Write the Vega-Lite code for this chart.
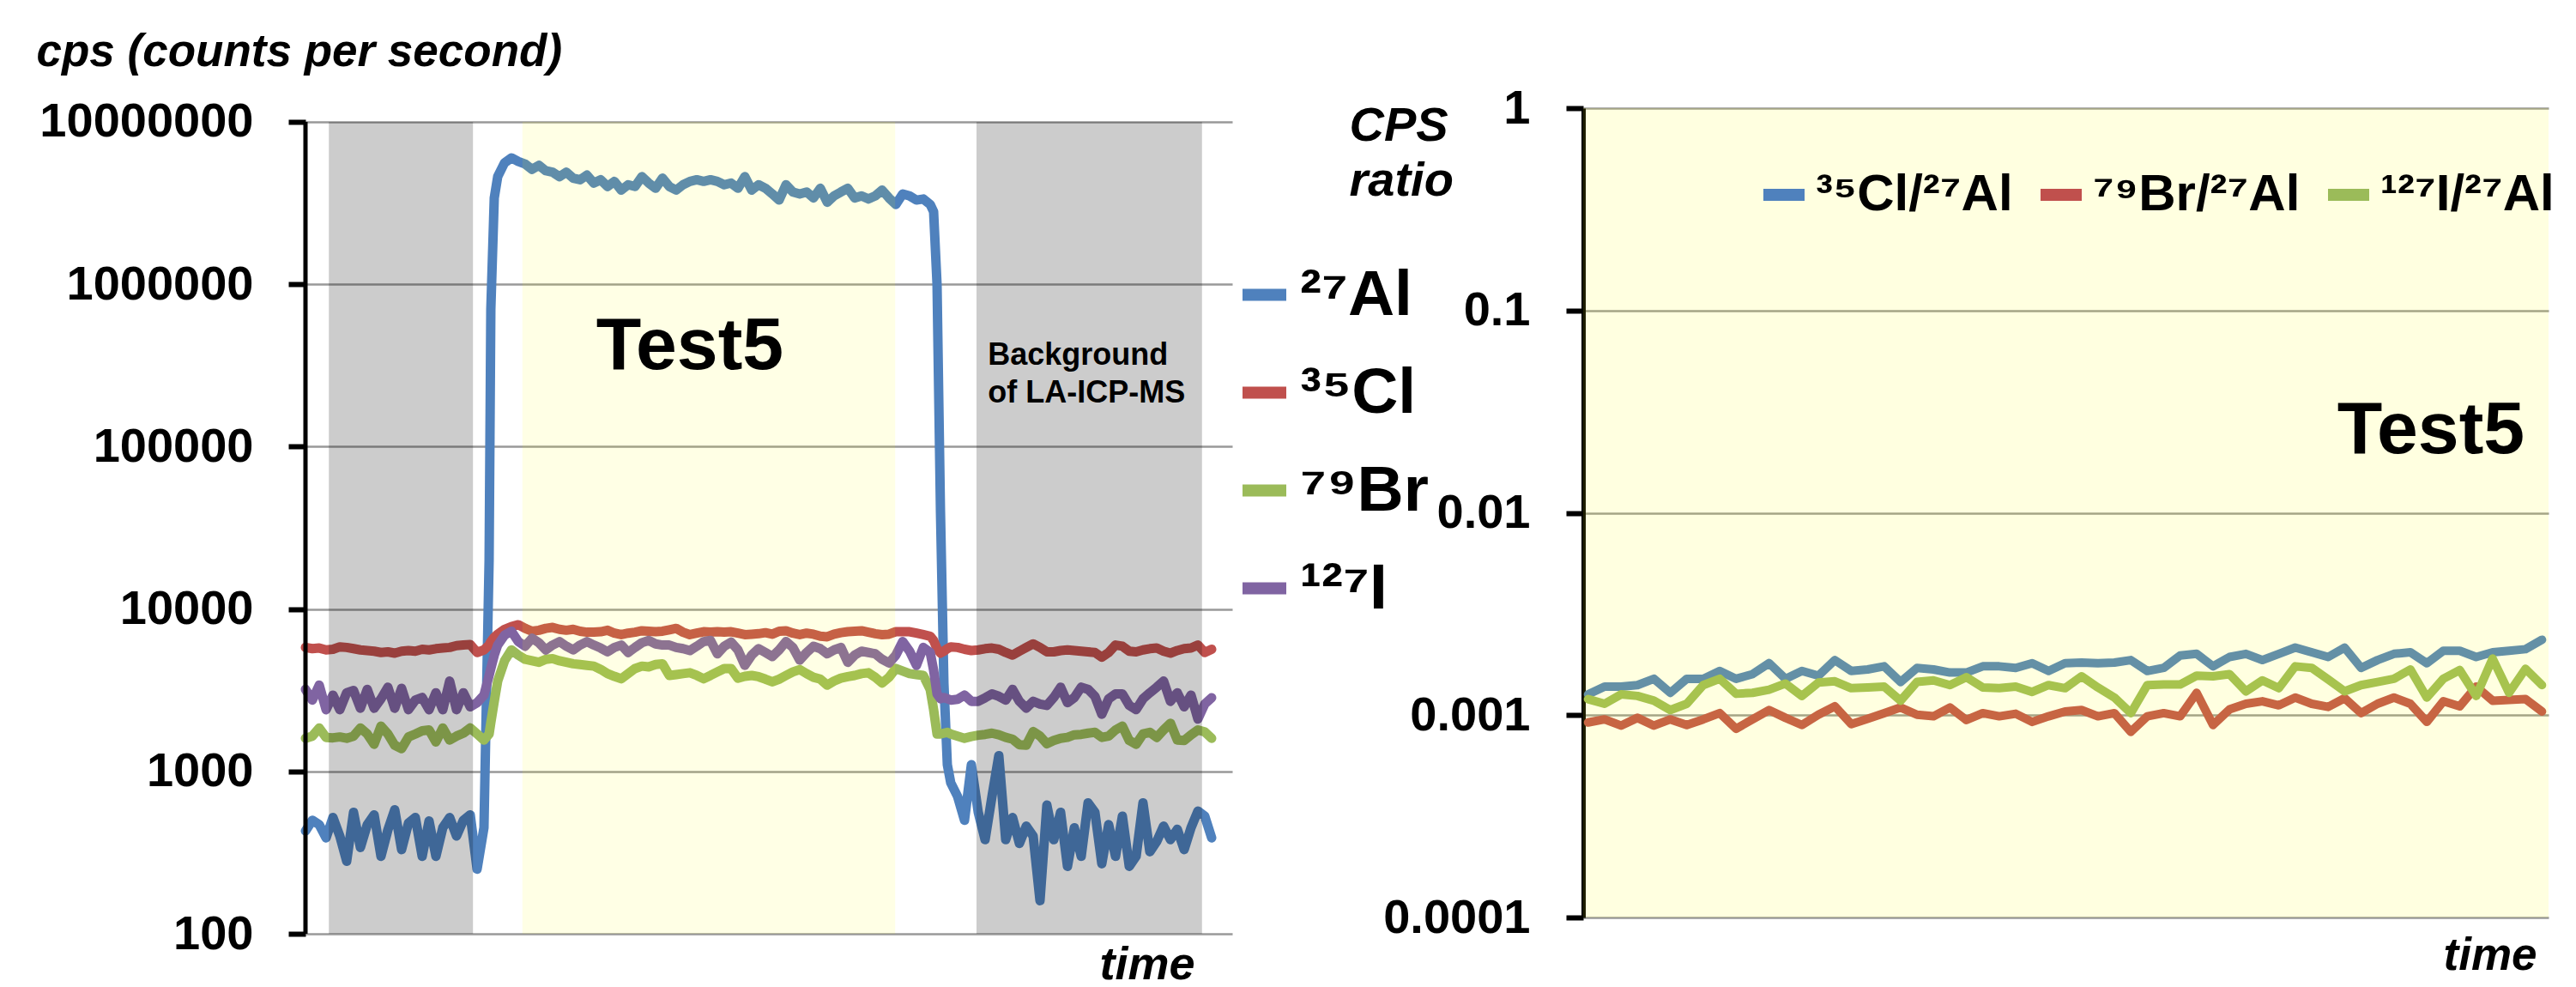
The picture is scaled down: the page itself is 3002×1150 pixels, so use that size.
{
"$schema": "https://vega.github.io/schema/vega-lite/v6.json",
"background": "white",
"padding": {"left": 42, "top": 34, "right": 0, "bottom": 0},
"config": {"font": "Liberation Sans", "view": {"stroke": null}},
"resolve": {"scale": {"color": "independent"}},
"bounds": "flush",
"spacing": 409,
"hconcat": [
{
"width": 1080, "height": 962,
"layer": [
{
"data": {"values": [
{"t":0,"Al":430,"Cl":5800,"Br":1600,"I":3200},
{"t":1,"Al":500,"Cl":5700,"Br":1650,"I":2750},
{"t":2,"Al":470,"Cl":5750,"Br":1850,"I":3400},
{"t":3,"Al":390,"Cl":5600,"Br":1620,"I":2400},
{"t":4,"Al":520,"Cl":5650,"Br":1610,"I":2950},
{"t":5,"Al":400,"Cl":5850,"Br":1630,"I":2400},
{"t":6,"Al":280,"Cl":5800,"Br":1600,"I":3050},
{"t":7,"Al":560,"Cl":5700,"Br":1650,"I":3150},
{"t":8,"Al":340,"Cl":5600,"Br":1850,"I":2450},
{"t":9,"Al":470,"Cl":5550,"Br":1700,"I":3200},
{"t":10,"Al":540,"Cl":5500,"Br":1470,"I":2450},
{"t":11,"Al":300,"Cl":5400,"Br":1900,"I":2800},
{"t":12,"Al":436,"Cl":5450,"Br":1700,"I":3300},
{"t":13,"Al":580,"Cl":5350,"Br":1450,"I":2450},
{"t":14,"Al":330,"Cl":5500,"Br":1380,"I":3250},
{"t":15,"Al":480,"Cl":5550,"Br":1630,"I":2400},
{"t":16,"Al":520,"Cl":5500,"Br":1700,"I":2750},
{"t":17,"Al":300,"Cl":5650,"Br":1780,"I":2850},
{"t":18,"Al":495,"Cl":5600,"Br":1800,"I":2400},
{"t":19,"Al":300,"Cl":5700,"Br":1520,"I":3050},
{"t":20,"Al":450,"Cl":5750,"Br":1850,"I":2400},
{"t":21,"Al":520,"Cl":5800,"Br":1560,"I":3600},
{"t":22,"Al":400,"Cl":5950,"Br":1650,"I":2400},
{"t":23,"Al":500,"Cl":6000,"Br":1720,"I":3050},
{"t":24,"Al":540,"Cl":6050,"Br":1850,"I":2500},
{"t":25,"Al":250,"Cl":5400,"Br":1700,"I":2650},
{"t":26,"Al":450,"Cl":5600,"Br":1560,"I":2950},
{"t":26.75,"Al":20000,"Cl":6000,"Br":1700,"I":3900},
{"t":27,"Al":700000,"Cl":6300,"Br":2000,"I":4300},
{"t":27.5,"Al":3400000,"Cl":6700,"Br":2700,"I":5200},
{"t":28,"Al":4600000,"Cl":7000,"Br":3600,"I":6000},
{"t":29,"Al":5600000,"Cl":7500,"Br":4800,"I":6900},
{"t":30,"Al":6000000,"Cl":7800,"Br":5600,"I":7300},
{"t":31,"Al":5700000,"Cl":8000,"Br":5200,"I":6300},
{"t":32,"Al":5500000,"Cl":7600,"Br":4900,"I":5900},
{"t":33,"Al":5100000,"Cl":7300,"Br":4800,"I":6600},
{"t":34,"Al":5400000,"Cl":7400,"Br":4700,"I":6200},
{"t":35,"Al":5000000,"Cl":7600,"Br":4900,"I":5600},
{"t":36,"Al":4900000,"Cl":7700,"Br":4950,"I":6000},
{"t":37,"Al":4600000,"Cl":7500,"Br":4800,"I":6300},
{"t":38,"Al":4900000,"Cl":7400,"Br":4700,"I":5900},
{"t":39,"Al":4500000,"Cl":7500,"Br":4600,"I":5600},
{"t":40,"Al":4400000,"Cl":7300,"Br":4550,"I":6000},
{"t":41,"Al":4700000,"Cl":7200,"Br":4500,"I":6300},
{"t":42,"Al":4200000,"Cl":7200,"Br":4450,"I":6000},
{"t":43,"Al":4400000,"Cl":7250,"Br":4250,"I":5750},
{"t":44,"Al":4000000,"Cl":7400,"Br":4000,"I":5450},
{"t":45,"Al":4300000,"Cl":7100,"Br":3850,"I":5800},
{"t":46,"Al":3800000,"Cl":6950,"Br":3720,"I":6000},
{"t":47,"Al":4100000,"Cl":7100,"Br":4000,"I":5400},
{"t":48,"Al":4000000,"Cl":7200,"Br":4300,"I":5800},
{"t":49,"Al":4600000,"Cl":7350,"Br":4450,"I":6200},
{"t":50,"Al":4200000,"Cl":7300,"Br":4400,"I":6400},
{"t":51,"Al":3900000,"Cl":7250,"Br":4550,"I":6100},
{"t":52,"Al":4500000,"Cl":7300,"Br":4600,"I":6000},
{"t":53,"Al":4000000,"Cl":7450,"Br":3900,"I":6000},
{"t":54,"Al":3800000,"Cl":7600,"Br":3950,"I":5800},
{"t":55,"Al":4100000,"Cl":7200,"Br":4000,"I":5700},
{"t":56,"Al":4300000,"Cl":6950,"Br":4050,"I":5550},
{"t":57,"Al":4400000,"Cl":7100,"Br":3900,"I":5900},
{"t":58,"Al":4300000,"Cl":7250,"Br":3720,"I":6300},
{"t":59,"Al":4400000,"Cl":7200,"Br":3900,"I":6400},
{"t":60,"Al":4300000,"Cl":7250,"Br":4100,"I":5300},
{"t":61,"Al":4100000,"Cl":7200,"Br":4300,"I":5900},
{"t":62,"Al":4200000,"Cl":7250,"Br":4300,"I":6250},
{"t":63,"Al":3900000,"Cl":7100,"Br":3750,"I":5600},
{"t":64,"Al":4600000,"Cl":6950,"Br":3850,"I":4500},
{"t":65,"Al":3800000,"Cl":7000,"Br":3900,"I":5200},
{"t":66,"Al":4100000,"Cl":7050,"Br":3830,"I":5700},
{"t":67,"Al":3900000,"Cl":7150,"Br":3700,"I":5400},
{"t":68,"Al":3600000,"Cl":7000,"Br":3560,"I":5100},
{"t":69,"Al":3300000,"Cl":7300,"Br":3700,"I":5600},
{"t":70,"Al":4100000,"Cl":7350,"Br":3900,"I":6300},
{"t":71,"Al":3700000,"Cl":7100,"Br":4100,"I":5800},
{"t":72,"Al":3600000,"Cl":6950,"Br":4240,"I":4850},
{"t":73,"Al":3700000,"Cl":7100,"Br":4000,"I":5400},
{"t":74,"Al":3400000,"Cl":7000,"Br":3800,"I":5900},
{"t":75,"Al":3900000,"Cl":6800,"Br":3700,"I":5700},
{"t":76,"Al":3200000,"Cl":6750,"Br":3400,"I":5300},
{"t":77,"Al":3500000,"Cl":7000,"Br":3600,"I":5600},
{"t":78,"Al":3700000,"Cl":7150,"Br":3750,"I":5800},
{"t":79,"Al":3900000,"Cl":7250,"Br":3830,"I":4700},
{"t":80,"Al":3400000,"Cl":7300,"Br":3900,"I":5200},
{"t":81,"Al":3500000,"Cl":7350,"Br":4000,"I":5500},
{"t":82,"Al":3350000,"Cl":7200,"Br":4050,"I":5400},
{"t":83,"Al":3500000,"Cl":7050,"Br":3800,"I":5300},
{"t":84,"Al":3800000,"Cl":6950,"Br":3500,"I":4900},
{"t":85,"Al":3400000,"Cl":7000,"Br":3800,"I":4650},
{"t":86,"Al":3100000,"Cl":7250,"Br":4300,"I":5200},
{"t":87,"Al":3600000,"Cl":7250,"Br":4150,"I":6300},
{"t":88,"Al":3500000,"Cl":7250,"Br":4000,"I":5500},
{"t":89,"Al":3300000,"Cl":7100,"Br":3950,"I":4500},
{"t":90,"Al":3350000,"Cl":6950,"Br":3900,"I":5800},
{"t":91,"Al":3100000,"Cl":6800,"Br":3200,"I":5400},
{"t":91.5,"Al":2800000,"Cl":6400,"Br":2400,"I":4200},
{"t":92,"Al":1000000,"Cl":5700,"Br":1700,"I":3000},
{"t":92.5,"Al":40000,"Cl":5350,"Br":1700,"I":2800},
{"t":93,"Al":3500,"Cl":5500,"Br":1720,"I":2850},
{"t":93.5,"Al":1100,"Cl":5700,"Br":1740,"I":2800},
{"t":94,"Al":850,"Cl":5850,"Br":1700,"I":2750},
{"t":95,"Al":700,"Cl":5800,"Br":1650,"I":2780},
{"t":96,"Al":500,"Cl":5650,"Br":1600,"I":2950},
{"t":97,"Al":1100,"Cl":5550,"Br":1640,"I":2700},
{"t":98,"Al":560,"Cl":5600,"Br":1670,"I":2700},
{"t":99,"Al":380,"Cl":5700,"Br":1690,"I":2840},
{"t":100,"Al":700,"Cl":5750,"Br":1720,"I":3000},
{"t":101,"Al":1250,"Cl":5650,"Br":1680,"I":2900},
{"t":102,"Al":380,"Cl":5400,"Br":1620,"I":2750},
{"t":103,"Al":520,"Cl":5200,"Br":1580,"I":3200},
{"t":104,"Al":360,"Cl":5500,"Br":1460,"I":2700},
{"t":105,"Al":460,"Cl":5800,"Br":1450,"I":2450},
{"t":106,"Al":400,"Cl":6100,"Br":1760,"I":2700},
{"t":107,"Al":160,"Cl":5800,"Br":1650,"I":2600},
{"t":108,"Al":620,"Cl":5450,"Br":1480,"I":2550},
{"t":109,"Al":380,"Cl":5450,"Br":1550,"I":2850},
{"t":110,"Al":560,"Cl":5550,"Br":1600,"I":3300},
{"t":111,"Al":260,"Cl":5600,"Br":1620,"I":2650},
{"t":112,"Al":450,"Cl":5550,"Br":1680,"I":2850},
{"t":113,"Al":300,"Cl":5500,"Br":1690,"I":3300},
{"t":114,"Al":640,"Cl":5450,"Br":1720,"I":3200},
{"t":115,"Al":560,"Cl":5400,"Br":1740,"I":2900},
{"t":116,"Al":270,"Cl":5050,"Br":1620,"I":2250},
{"t":117,"Al":470,"Cl":5400,"Br":1650,"I":2800},
{"t":118,"Al":300,"Cl":6000,"Br":1800,"I":3000},
{"t":119,"Al":530,"Cl":5900,"Br":1900,"I":3000},
{"t":120,"Al":260,"Cl":5500,"Br":1550,"I":2550},
{"t":121,"Al":300,"Cl":5450,"Br":1470,"I":2400},
{"t":122,"Al":640,"Cl":5600,"Br":1700,"I":2800},
{"t":123,"Al":320,"Cl":5700,"Br":1740,"I":3050},
{"t":124,"Al":370,"Cl":5750,"Br":1620,"I":3300},
{"t":125,"Al":460,"Cl":5500,"Br":1800,"I":3600},
{"t":126,"Al":380,"Cl":5350,"Br":1980,"I":2700},
{"t":127,"Al":440,"Cl":5550,"Br":1560,"I":3050},
{"t":128,"Al":330,"Cl":5700,"Br":1550,"I":2500},
{"t":129,"Al":450,"Cl":5750,"Br":1680,"I":2950},
{"t":130,"Al":570,"Cl":6000,"Br":1800,"I":2100},
{"t":131,"Al":530,"Cl":5400,"Br":1750,"I":2600},
{"t":132,"Al":390,"Cl":5650,"Br":1600,"I":2840}
]},
"transform": [{"fold": ["Al", "Cl", "Br", "I"], "as": ["iso", "v"]}],
"mark": {"type": "line", "strokeWidth": 11, "strokeJoin": "round", "strokeCap": "round"},
"encoding": {
"x": {"field": "t", "type": "quantitative", "scale": {"domain": [0, 135], "nice": false, "zero": false},
 "axis": {"domain": false, "ticks": false, "labels": false, "grid": false, "title": "time", "titleX": 1036, "titleY": 52, "titleAlign": "right", "titleBaseline": "alphabetic", "titleFontSize": 54, "titleFontStyle": "italic", "titleFontWeight": "bold", "titleColor": "black"}},
"y": {"field": "v", "type": "quantitative", "scale": {"type": "log", "domain": [100, 12149000], "nice": false},
 "axis": {"values": [100, 1000, 10000, 100000, 1000000, 10000000], "labelExpr": "'' + datum.value", "domain": false, "tickSize": 20, "tickWidth": 6, "tickColor": "black", "labelFontSize": 56, "labelFontWeight": "bold", "labelColor": "black", "labelPadding": 41, "labelLimit": 0, "labelFlush": false, "labelOverlap": false, "grid": true, "gridColor": "#999999", "gridWidth": 2.5, "title": "cps (counts per second)", "titleX": -314, "titleY": -50, "titleAngle": 0, "titleAlign": "left", "titleBaseline": "alphabetic", "titleFontSize": 53, "titleFontStyle": "italic", "titleFontWeight": "bold", "titleColor": "black", "titleLimit": 0}},
"color": {"field": "iso", "type": "nominal", "scale": {"domain": ["Al", "Cl", "Br", "I"], "range": ["#4f81bd", "#c0504d", "#9bbb59", "#8064a2"]},
 "legend": {"orient": "none", "legendX": 1080, "legendY": 180, "title": null, "padding": 0, "symbolType": "stroke", "symbolSize": 2601, "symbolStrokeWidth": 14, "labelFontSize": 75, "labelFontWeight": "bold", "labelColor": "black", "labelOffset": 4, "rowPadding": 38, "labelLimit": 0,
  "labelExpr": "datum.value === 'Al' ? '²⁷Al' : datum.value === 'Cl' ? '³⁵Cl' : datum.value === 'Br' ? '⁷⁹Br' : '¹²⁷I'",
  "encode": {"symbols": {"update": {"stroke": {"signal": "datum.value === 'Al' ? '#0066ff' : datum.value === 'Cl' ? '#cc4040' : datum.value === 'Br' ? '#92d050' : '#884499'"}}}}}}
}
},
{
"data": {"values": [{"t0": 3.4, "t1": 24.4}, {"t0": 97.75, "t1": 130.6}]},
"mark": {"type": "rect", "color": "#000000", "opacity": 0.2},
"encoding": {"x": {"field": "t0", "type": "quantitative"}, "x2": {"field": "t1"}, "y": {"datum": 100}, "y2": {"datum": 10000000}}
},
{
"data": {"values": [{"t0": 31.6, "t1": 85.9}]},
"mark": {"type": "rect", "color": "#ffff00", "opacity": 0.1},
"encoding": {"x": {"field": "t0", "type": "quantitative"}, "x2": {"field": "t1"}, "y": {"datum": 100}, "y2": {"datum": 10000000}}
},
{
"data": {"values": [{}]},
"mark": {"type": "rule", "color": "black", "strokeWidth": 5},
"encoding": {"x": {"datum": 0}, "y": {"datum": 100}, "y2": {"datum": 10000000}}
},
{
"data": {"values": [{"label": "Test5"}]},
"mark": {"type": "text", "fontSize": 86, "fontWeight": "bold", "color": "black", "align": "center", "baseline": "alphabetic"},
"encoding": {"x": {"datum": 56.0}, "y": {"datum": 300600}, "text": {"field": "label"}}
},
{
"data": {"values": [{"label": ["Background", "of LA-ICP-MS"]}]},
"mark": {"type": "text", "fontSize": 36, "fontWeight": "bold", "color": "black", "align": "left", "baseline": "alphabetic", "lineHeight": 44},
"encoding": {"x": {"datum": 99.4}, "y": {"datum": 319000}, "text": {"field": "label"}}
}
]
},
{
"width": 1125, "height": 943,
"layer": [
{
"data": {"values": [
{"t":0,"Cl":0.001266,"Br":0.00092,"I":0.0012},
{"t":1,"Cl":0.001383,"Br":0.000953,"I":0.001138},
{"t":2,"Cl":0.001383,"Br":0.000888,"I":0.001266},
{"t":3,"Cl":0.001408,"Br":0.00097,"I":0.001244},
{"t":4,"Cl":0.001512,"Br":0.000888,"I":0.001179},
{"t":5,"Cl":0.001289,"Br":0.000953,"I":0.00106},
{"t":6,"Cl":0.001512,"Br":0.000894,"I":0.001138},
{"t":7,"Cl":0.001512,"Br":0.000953,"I":0.001408},
{"t":8,"Cl":0.001653,"Br":0.001023,"I":0.001512},
{"t":9,"Cl":0.001512,"Br":0.000857,"I":0.001275},
{"t":10,"Cl":0.001595,"Br":0.000953,"I":0.001289},
{"t":11,"Cl":0.001806,"Br":0.00106,"I":0.001335},
{"t":12,"Cl":0.001512,"Br":0.00097,"I":0.001433},
{"t":13,"Cl":0.001653,"Br":0.000894,"I":0.001244},
{"t":14,"Cl":0.001567,"Br":0.001005,"I":0.001449},
{"t":15,"Cl":0.001871,"Br":0.001106,"I":0.00147},
{"t":16,"Cl":0.001653,"Br":0.000903,"I":0.001359},
{"t":17,"Cl":0.001682,"Br":0.00096,"I":0.001369},
{"t":18,"Cl":0.001743,"Br":0.001023,"I":0.001383},
{"t":19,"Cl":0.001459,"Br":0.001091,"I":0.001179},
{"t":20,"Cl":0.001712,"Br":0.001005,"I":0.001459},
{"t":21,"Cl":0.001682,"Br":0.000987,"I":0.001485},
{"t":22,"Cl":0.001624,"Br":0.001091,"I":0.001408},
{"t":23,"Cl":0.001624,"Br":0.000946,"I":0.001539},
{"t":24,"Cl":0.001743,"Br":0.001023,"I":0.001369},
{"t":25,"Cl":0.001743,"Br":0.000987,"I":0.001359},
{"t":26,"Cl":0.001712,"Br":0.001016,"I":0.001383},
{"t":27,"Cl":0.001806,"Br":0.000926,"I":0.001302},
{"t":28,"Cl":0.001653,"Br":0.000987,"I":0.001408},
{"t":29,"Cl":0.001806,"Br":0.001042,"I":0.001359},
{"t":30,"Cl":0.001819,"Br":0.00106,"I":0.001556},
{"t":31,"Cl":0.001806,"Br":0.000987,"I":0.001369},
{"t":32,"Cl":0.001819,"Br":0.001023,"I":0.001222},
{"t":33,"Cl":0.001871,"Br":0.000827,"I":0.001023},
{"t":34,"Cl":0.001653,"Br":0.000987,"I":0.001408},
{"t":35,"Cl":0.001712,"Br":0.001023,"I":0.001418},
{"t":36,"Cl":0.001973,"Br":0.000987,"I":0.001418},
{"t":37,"Cl":0.002009,"Br":0.001289,"I":0.001567},
{"t":38,"Cl":0.001743,"Br":0.000894,"I":0.001556},
{"t":39,"Cl":0.001938,"Br":0.001068,"I":0.001595},
{"t":40,"Cl":0.002009,"Br":0.001138,"I":0.001311},
{"t":41,"Cl":0.001871,"Br":0.001171,"I":0.001485},
{"t":42,"Cl":0.002009,"Br":0.001118,"I":0.001359},
{"t":43,"Cl":0.002157,"Br":0.001222,"I":0.001743},
{"t":44,"Cl":0.002045,"Br":0.001138,"I":0.001712},
{"t":45,"Cl":0.001938,"Br":0.001098,"I":0.001501},
{"t":46,"Cl":0.002157,"Br":0.001213,"I":0.001311},
{"t":47,"Cl":0.001712,"Br":0.001023,"I":0.001408},
{"t":48,"Cl":0.001871,"Br":0.001138,"I":0.001459},
{"t":49,"Cl":0.002009,"Br":0.001222,"I":0.001512},
{"t":50,"Cl":0.002045,"Br":0.001138,"I":0.001682},
{"t":51,"Cl":0.001806,"Br":0.000926,"I":0.001222},
{"t":52,"Cl":0.002081,"Br":0.001171,"I":0.001512},
{"t":53,"Cl":0.002081,"Br":0.001106,"I":0.00167},
{"t":54,"Cl":0.001938,"Br":0.001383,"I":0.001244},
{"t":55,"Cl":0.002045,"Br":0.001179,"I":0.001904},
{"t":56,"Cl":0.002081,"Br":0.001188,"I":0.001289},
{"t":57,"Cl":0.002119,"Br":0.0012,"I":0.001694},
{"t":58,"Cl":0.002358,"Br":0.001042,"I":0.001408}
]},
"transform": [{"fold": ["Cl", "Br", "I"], "as": ["ratio", "v"]}],
"mark": {"type": "line", "strokeWidth": 10, "strokeJoin": "round", "strokeCap": "round"},
"encoding": {
"x": {"field": "t", "type": "quantitative", "scale": {"domain": [-0.3, 58.4], "nice": false, "zero": false},
 "axis": {"domain": false, "ticks": false, "labels": false, "grid": false, "title": "time", "titleX": 1111, "titleY": 60, "titleAlign": "right", "titleBaseline": "alphabetic", "titleFontSize": 53, "titleFontStyle": "italic", "titleFontWeight": "bold", "titleColor": "black"}},
"y": {"field": "v", "type": "quantitative", "scale": {"type": "log", "domain": [0.0001, 1], "nice": false},
 "axis": {"values": [0.0001, 0.001, 0.01, 0.1, 1], "labelExpr": "'' + datum.value", "domain": true, "domainColor": "black", "domainWidth": 5, "tickSize": 20, "tickWidth": 6, "tickColor": "black", "labelFontSize": 56, "labelFontWeight": "bold", "labelColor": "black", "labelPadding": 42, "labelLimit": 0, "labelFlush": false, "labelOverlap": false, "grid": true, "gridColor": "#999999", "gridWidth": 2.5, "title": ["CPS", "ratio"], "titleX": -273, "titleY": 37, "titleAngle": 0, "titleAlign": "left", "titleBaseline": "alphabetic", "titleLineHeight": 64, "titleFontSize": 56, "titleFontStyle": "italic", "titleFontWeight": "bold", "titleColor": "black"}},
"color": {"field": "ratio", "type": "nominal", "scale": {"domain": ["Cl", "Br", "I"], "range": ["#4f81bd", "#c0504d", "#9bbb59"]},
 "legend": {"orient": "none", "direction": "horizontal", "legendX": 203, "legendY": 70, "title": null, "padding": 0, "symbolType": "stroke", "symbolSize": 2304, "symbolStrokeWidth": 14, "labelFontSize": 60, "labelFontWeight": "bold", "labelColor": "black", "labelOffset": 6, "columnPadding": 4, "labelLimit": 0,
  "labelExpr": "datum.value === 'Cl' ? '³⁵Cl/²⁷Al' : datum.value === 'Br' ? '⁷⁹Br/²⁷Al' : '¹²⁷I/²⁷Al'",
  "encode": {"symbols": {"update": {"stroke": {"signal": "datum.value === 'Cl' ? '#0066ff' : datum.value === 'Br' ? '#cc4040' : '#92d050'"}}}}}}
}
},
{
"data": {"values": [{}]},
"mark": {"type": "rect", "color": "#ffff00", "opacity": 0.12},
"encoding": {"x": {"datum": -0.3}, "x2": {"datum": 58.4}, "y": {"datum": 0.0001}, "y2": {"datum": 1}}
},
{
"data": {"values": [{"label": "Test5"}]},
"mark": {"type": "text", "fontSize": 86, "fontWeight": "bold", "color": "black", "align": "center", "baseline": "alphabetic"},
"encoding": {"x": {"datum": 51.25}, "y": {"datum": 0.01971}, "text": {"field": "label"}}
}
]
}
]
}
